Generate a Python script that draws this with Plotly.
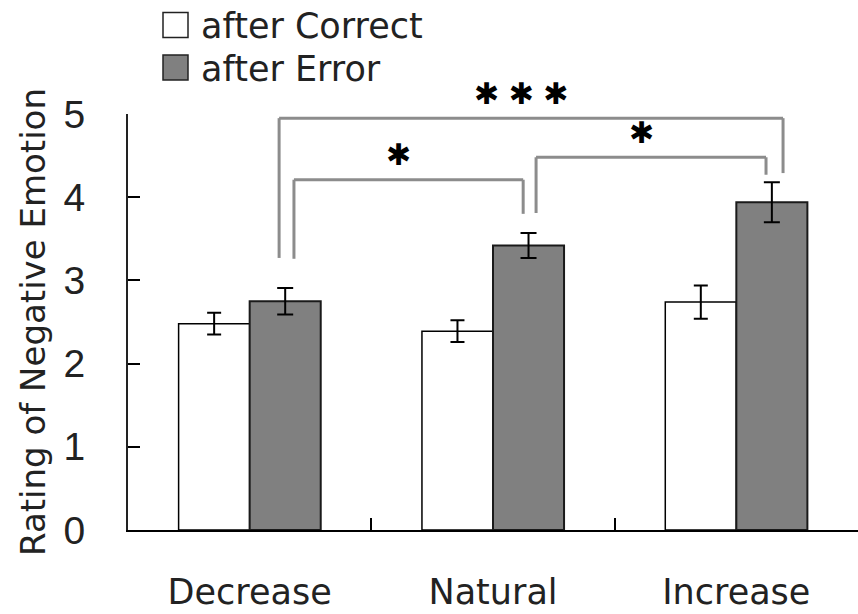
import plotly.graph_objects as go

# ---- data ----
categories = ["Decrease", "Natural", "Increase"]
after_correct = [2.48, 2.39, 2.74]
after_correct_se = [0.13, 0.13, 0.20]
after_error = [2.75, 3.42, 3.94]
after_error_se = [0.16, 0.15, 0.24]
y_ticks = [0, 1, 2, 3, 4, 5]

# significance comparisons: (from idx, to idx, bracket top, left leg bottom, right leg bottom, label)
comparisons = [
    (0, 2, 4.95, 3.27, 4.29, "✱ ✱ ✱"),
    (0, 1, 4.21, 3.26, 3.80, "✱"),
    (1, 2, 4.48, 3.81, 4.27, "✱"),
]
# leg x-offsets relative to category centre (style/positions)
leg_offsets = [(0.121, 0.192), (0.182, 0.124), (0.177, 0.122)]

W, H = 858, 614
ML, MR, MT, MB = 128, 0, 114, 84
PW, PH = W - ML - MR, H - MT - MB


def px_x(px):
    return (px - ML) / PW


def px_y(py):
    return (H - MB - py) / PH


x_idx = list(range(len(categories)))

fig = go.Figure()
fig.add_trace(go.Bar(
    x=x_idx, y=after_correct, name="after Correct",
    marker=dict(color="white", line=dict(color="black", width=1.5)),
    error_y=dict(type="data", array=after_correct_se, color="black", thickness=2, width=7),
))
fig.add_trace(go.Bar(
    x=x_idx, y=after_error, name="after Error",
    marker=dict(color="#808080", line=dict(color="#1a1a1a", width=2)),
    error_y=dict(type="data", array=after_error_se, color="black", thickness=2, width=8),
))

shapes = []
annotations = []
for (i0, i1, top, b0, b1, lab), (o0, o1) in zip(comparisons, leg_offsets):
    xa = i0 + o0
    xb = i1 + o1
    style = dict(color="#8c8c8c", width=3)
    shapes.append(dict(type="line", xref="x", yref="y", x0=xa, x1=xa, y0=b0, y1=top, line=style))
    shapes.append(dict(type="line", xref="x", yref="y", x0=xa, x1=xb, y0=top, y1=top, line=style))
    shapes.append(dict(type="line", xref="x", yref="y", x0=xb, x1=xb, y0=b1, y1=top, line=style))
    annotations.append(dict(
        x=(xa + xb) / 2, y=top, xref="x", yref="y", text=lab, showarrow=False,
        xshift=-10, yshift=25, yanchor="middle", xanchor="center",
        font=dict(family="DejaVu Sans", size=30, color="black"),
    ))

# custom legend (large squares like the reference)
legend_items = [("after Correct", "white", 12.5), ("after Error", "#808080", 55)]
for name, color, top_px in legend_items:
    shapes.append(dict(type="rect", xref="paper", yref="paper",
                       x0=px_x(163), x1=px_x(188), y0=px_y(top_px + 25), y1=px_y(top_px),
                       fillcolor=color, line=dict(color="#222222", width=1.5)))
    annotations.append(dict(
        x=px_x(199), y=px_y(top_px + 14), xref="paper", yref="paper", text=name,
        showarrow=False, xanchor="left", yanchor="middle",
        font=dict(family="DejaVu Sans", size=35, color="#222222"),
    ))

fig.update_layout(
    width=W, height=H,
    margin=dict(l=ML, r=MR, t=MT, b=MB, pad=0),
    paper_bgcolor="white", plot_bgcolor="white",
    barmode="group", bargap=0.416, bargroupgap=0,
    showlegend=False,
    shapes=shapes, annotations=annotations,
)
fig.update_xaxes(
    range=[-0.5, 2.5], tickmode="array", tickvals=x_idx, ticktext=categories,
    ticks="", showgrid=False, zeroline=False,
    showline=True, linecolor="black", linewidth=2,
    tickfont=dict(family="DejaVu Sans", size=35, color="#222222"),
    ticklabelstandoff=30,
    minor=dict(tickmode="array", tickvals=[0.5, 1.5], ticks="inside", ticklen=12,
               tickwidth=2, tickcolor="black", showgrid=False),
)
fig.update_yaxes(
    range=[0, 5], tickmode="array", tickvals=y_ticks,
    ticks="inside", ticklen=12, tickwidth=2, tickcolor="black",
    showgrid=False, zeroline=False,
    showline=True, linecolor="#222222", linewidth=2,
    tickfont=dict(family="Liberation Sans", size=39, color="#222222"),
    ticklabelstandoff=33,
    title=dict(text="Rating of Negative Emotion", standoff=8,
               font=dict(family="DejaVu Sans", size=34, color="#222222")),
)

fig.write_html("out.html")
